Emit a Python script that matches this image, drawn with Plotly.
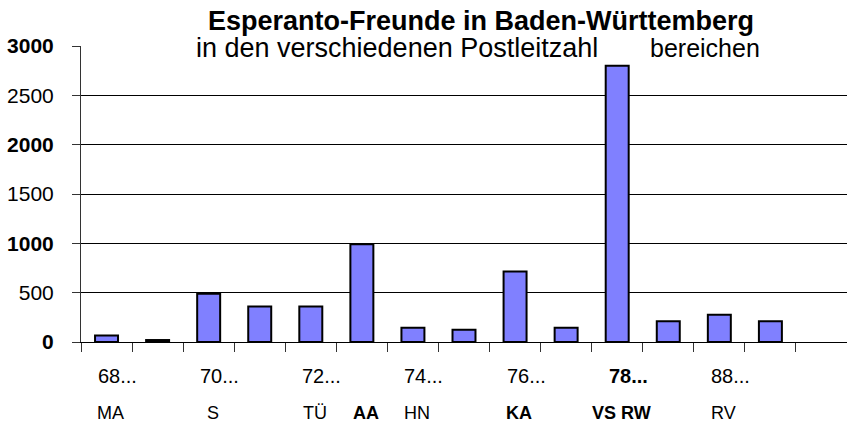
import plotly.graph_objects as go

FONT = "Arial, 'Liberation Sans', sans-serif"

# data
areas = ["68", "69", "70", "71", "72", "73", "74", "75", "76", "77", "78", "79", "88", "89", ""]
counts = [65, 20, 490, 360, 360, 990, 145, 125, 715, 145, 2800, 210, 275, 210, None]
row1_labels = ["68...", "", "70...", "", "72...", "", "74...", "", "76...", "", "<b>78...</b>", "", "88...", "", ""]
row2_labels = ["MA", "", "S", "", "TÜ", "<b>AA</b>", "HN", "", "<b>KA</b>", "", "<b>VS RW</b>", "", "RV", "", ""]
y_ticks = [0, 500, 1000, 1500, 2000, 2500, 3000]
y_ticktext = ["<b>0</b>", "500", "<b>1000</b>", "1500", "<b>2000</b>", "2500", "<b>3000</b>"]
title_text = "<b>Esperanto-Freunde in Baden-Württemberg</b>"
subtitle_left = "in den verschiedenen Postleitzahl"
subtitle_right = "bereichen"

idx = list(range(len(areas)))
boundaries = [i - 0.5 for i in idx] + [len(areas) - 0.5]

W, H = 847, 423
L, T, B = 81, 46, 81
PW = W - L

fig = go.Figure()
fig.add_trace(go.Bar(
    x=idx, y=counts,
    marker=dict(color="#8080ff", line=dict(color="black", width=2)),
    width=0.45,
    hoverinfo="skip",
))

fig.update_layout(
    width=W, height=H,
    margin=dict(l=L, r=0, t=T, b=B, pad=0, autoexpand=False),
    paper_bgcolor="white", plot_bgcolor="white",
    showlegend=False,
    font=dict(family=FONT, color="black"),
    xaxis=dict(
        range=[-0.5, len(areas) - 0.5], automargin=False,
        tickmode="array", tickvals=boundaries, ticktext=[""] * len(boundaries),
        ticks="outside", ticklen=9, tickwidth=1, tickcolor="#333",
        showline=True, linecolor="black", linewidth=1,
        showgrid=False, zeroline=False, fixedrange=True,
    ),
    xaxis2=dict(
        overlaying="x", anchor="y", side="bottom", automargin=False,
        range=[-0.5, len(areas) - 0.5],
        tickmode="array", tickvals=boundaries, ticktext=[""] * len(boundaries),
        ticks="inside", ticklen=6, tickwidth=1, tickcolor="#333",
        showline=False, showgrid=False, zeroline=False, showticklabels=False,
    ),
    yaxis=dict(
        range=[0, 3000], automargin=False,
        tickmode="array", tickvals=y_ticks, ticktext=y_ticktext,
        ticks="outside", ticklen=8, tickwidth=1, tickcolor="#333",
        ticklabelstandoff=14,
        tickfont=dict(size=21, family=FONT, color="black"),
        showline=True, linecolor="#333", linewidth=1,
        showgrid=True, gridcolor="black", gridwidth=1,
        zeroline=False, fixedrange=True,
    ),
)

annotations = []
for i, t in enumerate(row1_labels):
    if t:
        annotations.append(dict(x=i, y=0, xref="x", yref="paper", text=t, showarrow=False,
                                xanchor="center", yanchor="middle", xshift=11, yshift=-34,
                                font=dict(size=20, family=FONT, color="black")))
for i, t in enumerate(row2_labels):
    if t:
        annotations.append(dict(x=i, y=0, xref="x", yref="paper", text=t, showarrow=False,
                                xanchor="center", yanchor="middle", xshift=4, yshift=-71,
                                font=dict(size=18, family=FONT, color="black")))
annotations.append(dict(x=(481 - L) / PW, y=1, xref="paper", yref="paper", text=title_text,
                        showarrow=False, xanchor="center", yanchor="middle", yshift=25,
                        font=dict(size=27, family=FONT, color="black")))
annotations.append(dict(x=(600 - L) / PW, y=1, xref="paper", yref="paper", text=subtitle_left,
                        showarrow=False, xanchor="right", yanchor="middle", yshift=-2,
                        font=dict(size=27, family=FONT, color="black")))
annotations.append(dict(x=(648 - L) / PW, y=1, xref="paper", yref="paper", text=subtitle_right,
                        showarrow=False, xanchor="left", yanchor="middle", yshift=-2,
                        font=dict(size=25, family=FONT, color="black")))
fig.update_layout(annotations=annotations)

fig.write_html("out.html", config={"displayModeBar": False},
               post_script="document.body.style.margin='0';")
